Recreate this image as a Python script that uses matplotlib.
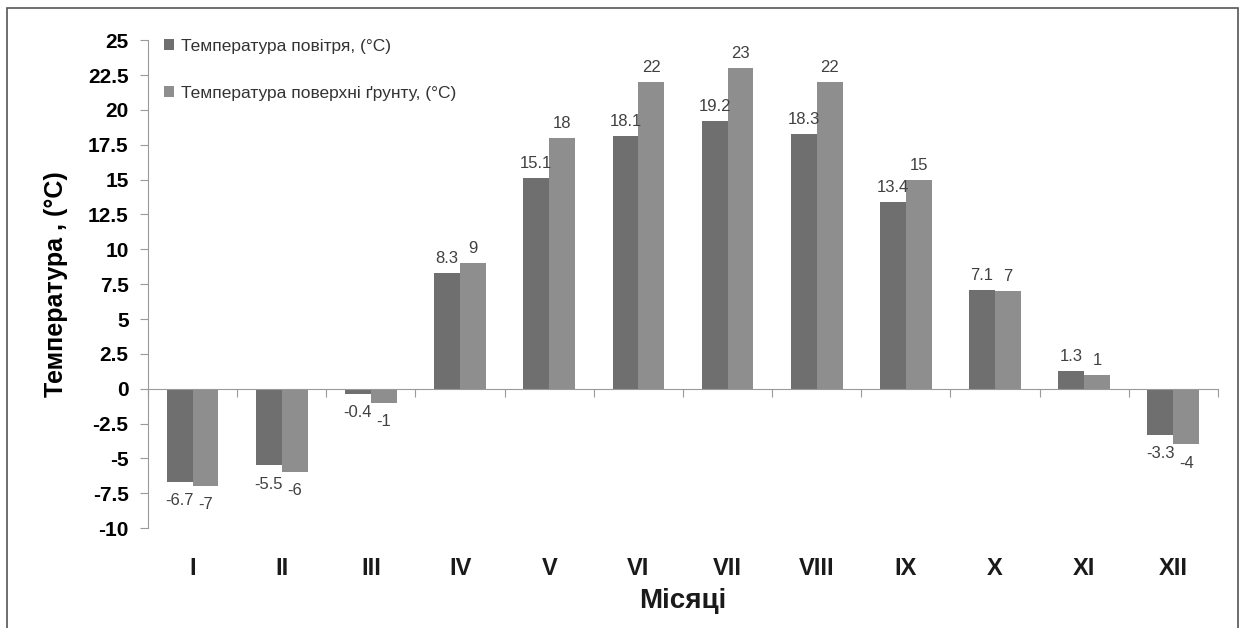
import matplotlib
matplotlib.use("Agg")
import matplotlib.pyplot as plt
from matplotlib.patches import Rectangle
from matplotlib.ticker import FuncFormatter, FixedLocator
import numpy as np

plt.rcParams["font.family"] = ["Liberation Sans", "DejaVu Sans"]
plt.rcParams["axes.unicode_minus"] = False

months = ["I", "II", "III", "IV", "V", "VI", "VII", "VIII", "IX", "X", "XI", "XII"]
air = [-6.7, -5.5, -0.4, 8.3, 15.1, 18.1, 19.2, 18.3, 13.4, 7.1, 1.3, -3.3]
soil = [-7, -6, -1, 9, 18, 22, 23, 22, 15, 7, 1, -4]
air_label = "Температура повітря, (°C)"
soil_label = "Температура поверхні ґрунту, (°C)"

DARK, LIGHT = "#6f6f6f", "#8e8e8e"
AXC = "#9a9a9a"

fig = plt.figure(figsize=(12.44, 6.28), dpi=100)
ax = fig.add_axes([0.119, 0.159, 0.860, 0.777])

x = np.arange(len(months))
w = 0.29
b1 = ax.bar(x - w / 2, air, w, color=DARK, label=air_label)
b2 = ax.bar(x + w / 2, soil, w, color=LIGHT, label=soil_label)

for bars, vals in [(b1, air), (b2, soil)]:
    for rect, v in zip(bars, vals):
        cx = rect.get_x() + rect.get_width() / 2
        if v >= 0:
            ax.annotate(f"{v:g}", (cx, v), xytext=(0, 5), textcoords="offset points",
                        ha="center", va="bottom", fontsize=12, color="#404040")
        else:
            ax.annotate(f"{v:g}", (cx, v), xytext=(0, -8), textcoords="offset points",
                        ha="center", va="top", fontsize=12, color="#404040")

ax.set_xlim(-0.5, len(months) - 0.5)
ax.set_ylim(-10, 25)
ax.yaxis.set_major_locator(FixedLocator(np.arange(-10, 25.1, 2.5)))
ax.yaxis.set_major_formatter(FuncFormatter(lambda v, p: f"{v:g}"))
ax.tick_params(axis="y", direction="out", length=6, color=AXC, labelsize=15, pad=8)
for t in ax.get_yticklabels():
    t.set_fontweight("bold")

ax.spines["bottom"].set_position(("data", 0))
ax.spines["bottom"].set_color(AXC)
ax.spines["left"].set_color(AXC)
ax.spines["top"].set_visible(False)
ax.spines["right"].set_visible(False)
ax.set_xticks(np.arange(-0.5, len(months), 1))
ax.tick_params(axis="x", direction="out", length=6, color=AXC, labelbottom=False)

for xi, m in zip(x, months):
    ax.text(xi, -0.083, m, transform=ax.get_xaxis_transform(), ha="center", va="center",
            fontsize=17, fontweight="bold", color="#1a1a1a")

ax.set_ylabel("Температура , (°C)", fontsize=18, fontweight="bold", labelpad=14)
ax.text(0.5, -0.15, "Місяці", transform=ax.transAxes, ha="center", va="center",
        fontsize=20, fontweight="bold", color="#1a1a1a")

ax.legend(loc="upper left", bbox_to_anchor=(0.0, 1.035), frameon=False, fontsize=12.5,
          handlelength=0.6, handleheight=0.6, handletextpad=0.4, labelspacing=1.85,
          labelcolor="#333333")

fig.patches.append(Rectangle((0.006, -0.02), 0.989, 1.008, transform=fig.transFigure,
                             fill=False, edgecolor="#555555", lw=1.2))

fig.savefig("out.png", dpi=100)
